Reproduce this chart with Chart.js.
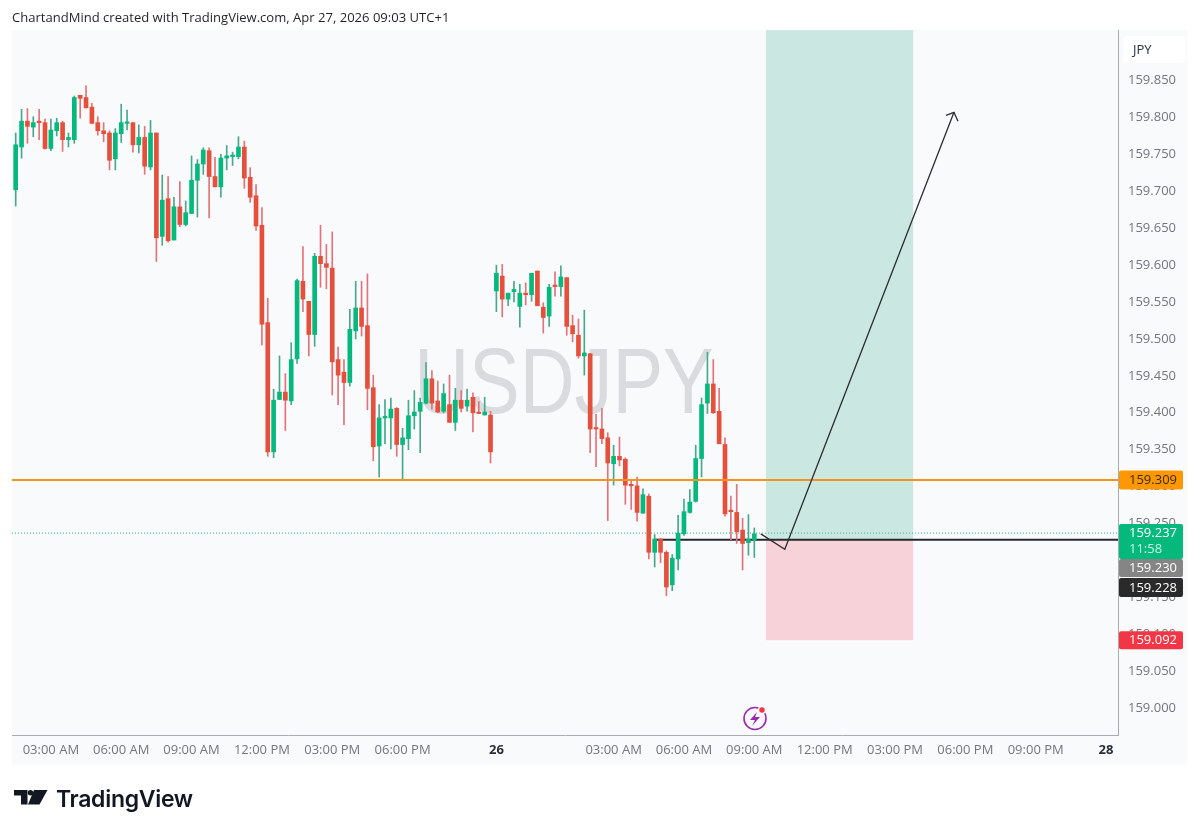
<!DOCTYPE html>
<html>
<head>
<meta charset="utf-8">
<title>USDJPY</title>
<script src="https://cdn.jsdelivr.net/npm/chart.js@4/dist/chart.umd.min.js"></script>
<style>
  html, body { margin: 0; padding: 0; background: #fff; overflow: hidden; }
  #wrap { position: relative; width: 1200px; height: 833px; }
  canvas { position: absolute; left: 0; top: 0; }
  #credit { position: absolute; left: 12px; top: 8px; font: 13.06px "Open Sans", sans-serif; color: #1f2229; white-space: nowrap; }
  #brand { position: absolute; left: 56px; top: 785px; font: 600 23px Inter, sans-serif; color: #131722; letter-spacing: -0.3px; white-space: nowrap; }
  #logo { position: absolute; left: 14px; top: 790px; }
</style>
</head>
<body>
<div id="wrap">
  <canvas id="chart" width="1200" height="833"></canvas>
  <div id="credit">ChartandMind created with TradingView.com, Apr 27, 2026 09:03 UTC+1</div>
  <svg id="logo" width="34" height="15" viewBox="0 0 34 15">
    <path fill="#131722" d="M0 0h13.5v14.5H7V5.5H0z"/>
    <circle fill="#131722" cx="16.5" cy="2.7" r="2.7"/>
    <path fill="#131722" d="M20 0h13.5l-8 14.5H14z"/>
  </svg>
  <div id="brand">TradingView</div>
</div>
<script>
// 15分K线，横轴用K线序号
const opens = [
  159.702,159.760,159.795,159.787,159.794,159.793,159.758,159.782,159.793,159.770,
  159.770,159.830,159.827,159.814,159.793,159.782,159.779,159.744,159.778,159.792,
  159.793,159.763,159.773,159.733,159.779,159.639,159.690,159.634,159.679,159.655,
  159.670,159.715,159.737,159.755,159.720,159.706,159.745,159.747,159.747,159.760,
  159.719,159.694,159.654,159.522,159.347,159.418,159.428,159.416,159.473,159.578,
  159.551,159.506,159.612,159.602,159.596,159.472,159.455,159.441,159.511,159.542,
  159.518,159.434,159.355,159.393,159.393,159.406,159.357,159.365,159.396,159.402,
  159.413,159.446,159.416,159.402,159.411,159.387,159.417,159.409,159.421,159.401,
  159.397,159.397,159.565,159.585,159.554,159.564,159.544,159.562,159.560,159.592,
  159.543,159.531,159.572,159.571,159.583,159.518,159.505,159.477,159.480,159.379,
  159.378,159.366,159.331,159.341,159.337,159.302,159.301,159.264,159.287,159.211,
  159.229,159.211,159.167,159.202,159.236,159.265,159.280,159.338,159.413,159.439,
  159.402,159.357,159.267,159.265,159.241,159.224,159.228
];
const highs = [
  159.779,159.811,159.812,159.801,159.811,159.798,159.798,159.799,159.795,159.779,
  159.829,159.830,159.843,159.819,159.801,159.793,159.782,159.785,159.818,159.810,
  159.793,159.790,159.788,159.796,159.779,159.722,159.720,159.692,159.713,159.687,
  159.748,159.743,159.759,159.759,159.746,159.750,159.762,159.753,159.774,159.768,
  159.732,159.709,159.678,159.555,159.432,159.477,159.453,159.495,159.581,159.625,
  159.551,159.616,159.654,159.628,159.645,159.489,159.472,159.540,159.578,159.578,
  159.588,159.451,159.411,159.418,159.420,159.407,159.379,159.417,159.430,159.420,
  159.468,159.457,159.443,159.439,159.451,159.433,159.430,159.432,159.427,159.415,
  159.421,159.402,159.600,159.601,159.562,159.578,159.574,159.576,159.589,159.592,
  159.549,159.574,159.591,159.599,159.583,159.532,159.527,159.539,159.480,159.398,
  159.406,159.373,159.356,159.367,159.339,159.310,159.313,159.297,159.290,159.235,
  159.230,159.213,159.208,159.261,159.283,159.296,159.356,159.420,159.482,159.472,
  159.433,159.366,159.287,159.303,159.257,159.262,159.244
];
const lows = [
  159.680,159.745,159.765,159.774,159.770,159.757,159.755,159.775,159.754,159.760,
  159.765,159.799,159.813,159.792,159.776,159.767,159.729,159.729,159.766,159.783,
  159.753,159.752,159.723,159.729,159.605,159.627,159.631,159.634,159.652,159.653,
  159.670,159.665,159.723,159.664,159.706,159.692,159.729,159.735,159.744,159.704,
  159.685,159.647,159.492,159.341,159.339,159.418,159.376,159.411,159.467,159.537,
  159.477,159.490,159.570,159.568,159.424,159.411,159.384,159.436,159.500,159.504,
  159.404,159.335,159.313,159.358,159.351,159.341,159.309,159.350,159.378,159.346,
  159.412,159.405,159.400,159.400,159.387,159.376,159.401,159.402,159.374,159.399,
  159.397,159.332,159.537,159.530,159.545,159.550,159.516,159.546,159.551,159.545,
  159.508,159.517,159.558,159.558,159.505,159.496,159.474,159.451,159.346,159.327,
  159.358,159.254,159.302,159.328,159.276,159.269,159.253,159.264,159.202,159.191,
  159.197,159.152,159.159,159.187,159.234,159.264,159.279,159.313,159.399,159.399,
  159.358,159.260,159.228,159.223,159.187,159.207,159.204
];
const closes = [
  159.763,159.795,159.788,159.793,159.793,159.758,159.783,159.793,159.770,159.773,
  159.827,159.826,159.813,159.792,159.782,159.778,159.742,159.779,159.793,159.793,
  159.763,159.773,159.734,159.779,159.637,159.688,159.633,159.679,159.655,159.671,
  159.715,159.737,159.756,159.720,159.706,159.745,159.748,159.749,159.760,159.718,
  159.692,159.653,159.520,159.347,159.417,159.428,159.417,159.472,159.579,159.554,
  159.506,159.612,159.602,159.597,159.469,159.451,159.441,159.513,159.542,159.517,
  159.433,159.354,159.393,159.394,159.405,159.357,159.366,159.396,159.401,159.414,
  159.446,159.413,159.401,159.426,159.387,159.417,159.406,159.417,159.400,159.399,
  159.401,159.347,159.589,159.554,159.562,159.567,159.562,159.560,159.589,159.545,
  159.529,159.570,159.571,159.584,159.517,159.507,159.477,159.481,159.378,159.378,
  159.365,159.332,159.341,159.336,159.302,159.301,159.265,159.289,159.211,159.229,
  159.211,159.164,159.203,159.237,159.266,159.279,159.338,159.411,159.439,159.400,
  159.358,159.263,159.266,159.239,159.223,159.229,159.236
];

const priceTicks = [159.000,159.050,159.100,159.150,159.200,159.250,159.300,159.350,159.400,159.450,
  159.500,159.550,159.600,159.650,159.700,159.750,159.800,159.850];
const timeTicks = [6, 18, 30, 42, 54, 66, 82, 102, 114, 126, 138, 150, 162, 174, 186];
const timeLabels = ['03:00 AM','06:00 AM','09:00 AM','12:00 PM','03:00 PM','06:00 PM','26',
  '03:00 AM','06:00 AM','09:00 AM','12:00 PM','03:00 PM','06:00 PM','09:00 PM','28'];

const supportLevel = 159.309;
const lastPrice = 159.237;
const entryPrice = 159.228;
const stopPrice = 159.092;
const targetPrice = 160.000;
const zoneFrom = 128;
const zoneTo = 153.1;
const arrowPath = [{ x: 127.1, y: 159.236 }, { x: 131.2, y: 159.215 }, { x: 160.06, y: 159.807 }];

const GREEN = '#04B97B';
const RED = '#E5503C';
const FONT = '"Open Sans", sans-serif';

const candleIdx = opens.map((_, i) => i);
const wickData = candleIdx.map(i => ({ x: i, y: [lows[i], highs[i]] }));
const bodyData = candleIdx.map(i => ({ x: i, y: [opens[i], closes[i]] }));
const bodyColors = candleIdx.map(i => (closes[i] >= opens[i] ? GREEN : RED));
const wickColors = candleIdx.map(i => (closes[i] >= opens[i] ? '#47A98C' : '#E2737A'));

// 日期刻度（26、28）用粗体
function isDayTick(c) {
  return !!c.tick && /^\d+$/.test(String(c.tick.label));
}

// 面板背景、水印、多头区域
const backdrop = {
  id: 'backdrop',
  beforeDraw(chart) {
    const ctx = chart.ctx;
    ctx.save();
    ctx.fillStyle = '#F9FAFC';
    ctx.fillRect(12, 30, 1175, 735);
    ctx.restore();
  },
  beforeDatasetsDraw(chart) {
    const { ctx, chartArea: a, scales: { x, y } } = chart;
    ctx.save();
    ctx.beginPath();
    ctx.rect(a.left, a.top, a.right - a.left, a.bottom - a.top);
    ctx.clip();
    // 水印字形偏窄，横向压缩
    ctx.save();
    ctx.translate(564, 413);
    ctx.scale(0.825, 1);
    ctx.fillStyle = '#D9DBDF';
    ctx.font = '92px "Liberation Sans", sans-serif';
    ctx.textAlign = 'center';
    ctx.textBaseline = 'alphabetic';
    ctx.fillText('USDJPY', 0, 0);
    ctx.restore();
    const x0 = x.getPixelForValue(zoneFrom), x1 = x.getPixelForValue(zoneTo);
    const yEntry = y.getPixelForValue(entryPrice);
    ctx.fillStyle = '#CBE7E2';
    ctx.fillRect(x0, y.getPixelForValue(targetPrice), x1 - x0, yEntry - y.getPixelForValue(targetPrice));
    ctx.fillStyle = '#F7D2D8';
    ctx.fillRect(x0, yEntry, x1 - x0, y.getPixelForValue(stopPrice) - yEntry);
    ctx.restore();
  }
};

function badge(ctx, top, h, bg, fg, text) {
  ctx.fillStyle = bg;
  ctx.beginPath();
  ctx.roundRect(1119, top, 64, h, 2);
  ctx.fill();
  ctx.fillStyle = fg;
  ctx.fillText(text, 1129, top + h / 2 + 0.5);
}

// 箭头、右侧价格标签、闪电图标
const overlay = {
  id: 'overlay',
  afterDraw(chart) {
    const { ctx, scales: { x, y } } = chart;
    ctx.save();

    const n = arrowPath.length;
    const tipX = x.getPixelForValue(arrowPath[n - 1].x), tipY = y.getPixelForValue(arrowPath[n - 1].y);
    ctx.strokeStyle = '#2B2D33';
    ctx.lineWidth = 1.3;
    ctx.beginPath();
    ctx.moveTo(tipX - 8, tipY + 3);
    ctx.lineTo(tipX, tipY);
    ctx.lineTo(tipX + 4, tipY + 9);
    ctx.stroke();

    ctx.font = '13px ' + FONT;
    ctx.textAlign = 'left';
    ctx.textBaseline = 'middle';
    const py = y.getPixelForValue(supportLevel);
    badge(ctx, py - 9.5, 19, '#FF9800', '#3A2A10', supportLevel.toFixed(3));
    const ly = y.getPixelForValue(lastPrice);
    ctx.fillStyle = GREEN;
    ctx.beginPath();
    ctx.roundRect(1119, ly - 9, 64, 35, 2);
    ctx.fill();
    ctx.fillStyle = '#fff';
    ctx.fillText(lastPrice.toFixed(3), 1129, ly + 0.5);
    ctx.fillStyle = '#C9F5E4';
    ctx.fillText('11:58', 1129, ly + 16);
    badge(ctx, ly + 26, 18, '#858585', '#fff', '159.230');
    badge(ctx, ly + 45, 19, '#2A2A2A', '#fff', entryPrice.toFixed(3));
    const sy = y.getPixelForValue(stopPrice);
    badge(ctx, sy - 9, 18, '#F23645', '#fff', stopPrice.toFixed(3));

    ctx.fillStyle = '#fff';
    ctx.beginPath();
    ctx.roundRect(1123, 36, 62, 27, 4);
    ctx.fill();
    ctx.fillStyle = '#2A2E39';
    ctx.fillText('JPY', 1133, 50);

    ctx.strokeStyle = '#9C27B0';
    ctx.lineWidth = 1.6;
    ctx.beginPath();
    ctx.arc(755, 718.5, 11, 0, Math.PI * 2);
    ctx.stroke();
    ctx.fillStyle = '#9C27B0';
    ctx.beginPath();
    ctx.moveTo(757, 712);
    ctx.lineTo(750, 720);
    ctx.lineTo(755, 720);
    ctx.lineTo(752, 726);
    ctx.lineTo(760, 717);
    ctx.lineTo(755, 717);
    ctx.closePath();
    ctx.fill();
    ctx.fillStyle = '#F23645';
    ctx.strokeStyle = '#F9FAFC';
    ctx.lineWidth = 1.5;
    ctx.beginPath();
    ctx.arc(762, 710, 3.5, 0, Math.PI * 2);
    ctx.fill();
    ctx.stroke();
    ctx.restore();
  }
};

new Chart(document.getElementById('chart'), {
  type: 'bar',
  data: {
    datasets: [
      { type: 'line', data: arrowPath, borderColor: '#2B2D33', borderWidth: 1.3, pointRadius: 0, order: 0 },
      { type: 'line', data: [{ x: -0.63, y: supportLevel }, { x: 188.04, y: supportLevel }],
        borderColor: '#F7941D', borderWidth: 2, pointRadius: 0, order: 1 },
      { data: bodyData, backgroundColor: bodyColors, barThickness: 4, minBarLength: 1.5, grouped: false, order: 2 },
      { data: wickData, backgroundColor: wickColors, barThickness: 1, grouped: false, order: 3 },
      { type: 'line', data: [{ x: 109, y: entryPrice }, { x: 188.04, y: entryPrice }],
        borderColor: '#26282C', borderWidth: 2, pointRadius: 0, order: 4 },
      { type: 'line', data: [{ x: -0.63, y: lastPrice }, { x: 188.04, y: lastPrice }],
        borderColor: '#2FB78C', borderWidth: 1, borderDash: [1, 2], pointRadius: 0, order: 5 }
    ]
  },
  options: {
    responsive: false,
    animation: false,
    layout: { padding: { left: 12, top: 30, right: 13, bottom: 68 } },
    plugins: { legend: { display: false }, tooltip: { enabled: false }, title: { display: false } },
    scales: {
      x: {
        type: 'linear',
        offset: false,
        min: -0.63,
        max: 188.04,
        grid: { display: false, drawTicks: false },
        border: { display: true, color: '#A9ABB0', width: 1 },
        afterBuildTicks: axis => { axis.ticks = timeTicks.map(value => ({ value })); },
        afterFit: axis => { axis.height = 30; },
        ticks: {
          autoSkip: false,
          maxRotation: 0,
          padding: 7,
          color: c => (isDayTick(c) ? '#2A2E39' : '#73767E'),
          font: c => (isDayTick(c)
            ? { family: FONT, size: 13, weight: '700' }
            : { family: FONT, size: 13 }),
          callback: value => timeLabels[timeTicks.indexOf(value)]
        }
      },
      y: {
        position: 'right',
        min: 158.9635,
        max: 159.9185,
        grid: { display: false, drawTicks: false },
        border: { display: true, color: '#A9ABB0', width: 1 },
        afterBuildTicks: axis => { axis.ticks = priceTicks.map(value => ({ value })); },
        afterFit: axis => { axis.width = 69; },
        ticks: {
          autoSkip: false,
          padding: 10,
          color: '#73767E',
          font: { family: FONT, size: 13 },
          callback: value => value.toFixed(3)
        }
      }
    }
  },
  plugins: [backdrop, overlay]
});
</script>
</body>
</html>
